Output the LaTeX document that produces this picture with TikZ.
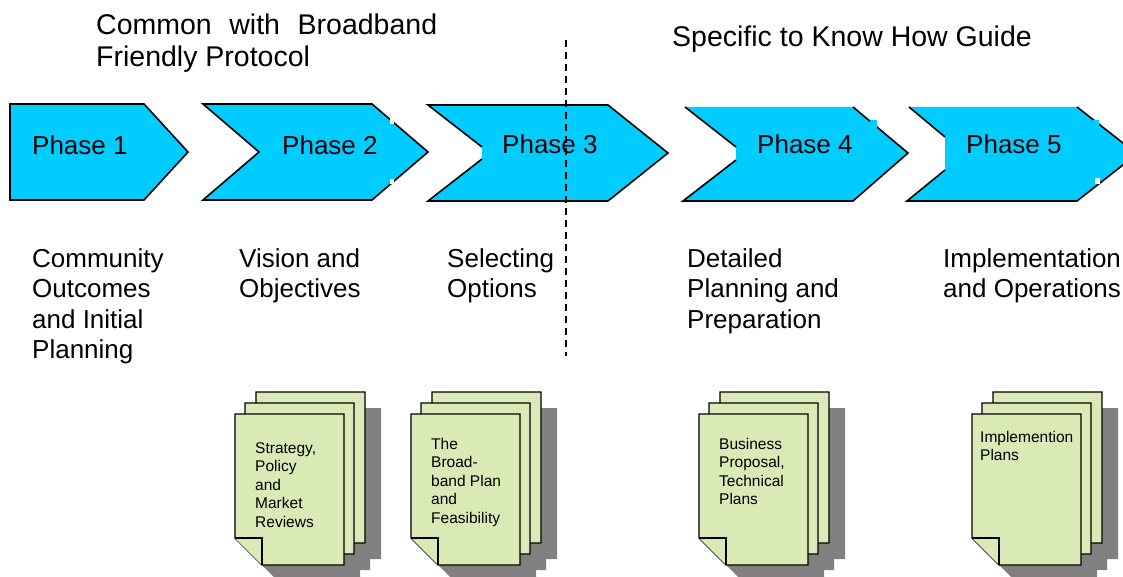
\documentclass[tikz,border=0pt]{standalone}
\usepackage{fontspec}
\setmainfont{Liberation Sans}
\definecolor{phcyan}{HTML}{00CCFF}
\definecolor{pagegreen}{HTML}{DAEAB6}
\definecolor{shadowgray}{HTML}{808080}
\tikzset{
  chevfill/.style={fill=phcyan, draw=none},
  chevline/.style={draw=black, line width=1.6pt, line join=miter},
  phaselabel/.style={anchor=base west, inner sep=0pt, font=\fontsize{26}{30}\selectfont},
  desclabel/.style={anchor=base west, inner sep=0pt, align=left, font=\fontsize{26}{30.5}\selectfont},
  toplabel/.style={anchor=base west, inner sep=0pt, align=left, font=\fontsize{28.5}{32}\selectfont},
  doclabel/.style={anchor=base west, inner sep=0pt, align=left, font=\fontsize{15.5}{18.6}\selectfont},
  pagebox/.style={fill=pagegreen, draw=black, line width=1.4pt},
  pageshadow/.style={fill=shadowgray, draw=none},
}
% dog-eared page outline: #1,#2 = top-left corner (w=109, h=151, ear=27)
\newcommand\pageoutline[2]{(#1,#2) -- ++(109,0) -- ++(0,151) -- ++(-82,0) -- ++(-27,-27) -- cycle}
% #1 x shift, #2 node name, #3 x, #4 baseline of LAST line, #5 text
\newcommand\docstack[5]{%
  \begin{scope}[shift={(#1,0)}]
    \fill[pageshadow] \pageoutline{272}{408};
    \fill[pageshadow] \pageoutline{261}{419};
    \fill[pageshadow] \pageoutline{251}{430};
    \draw[pagebox] \pageoutline{256}{392};
    \draw[pagebox] \pageoutline{245}{403};
    \draw[pagebox] \pageoutline{235}{414};
    \draw[pagebox] (235,538) -- (262,538) -- (262,565);
  \end{scope}
  \node[doclabel] (#2) at (#3,#4) {#5};
}
\begin{document}
\begin{tikzpicture}[x=1pt,y=-1pt]
\useasboundingbox (0,0) rectangle (1123,577);

% ---------- Phase 1 ----------
\fill[chevfill] (10,104) -- (144,104) -- (188,152) -- (144,200) -- (10,200) -- cycle;
\draw[chevline] (10,104) -- (144,104) -- (188,152) -- (144,200) -- (10,200) -- cycle;
% ---------- Phase 2 ----------
\fill[chevfill] (203,104) -- (372,104) -- (428,152) -- (372,200) -- (203,200) -- (259,152) -- cycle;
\draw[chevline] (203,104) -- (372,104) -- (428,152) -- (372,200) -- (203,200) -- (259,152) -- cycle;
\fill[white] (390,119) rectangle (394,124);
\fill[white] (390,179) rectangle (394,184);
% ---------- Phase 3 ----------
\fill[chevfill] (428,105) -- (608,105) -- (668,153) -- (608,201) -- (428,201) -- (482,159) -- (482,147) -- cycle;
\draw[chevline] (482,147) -- (428,105) -- (608,105) -- (668,153) -- (608,201) -- (428,201) -- (482,159);
% ---------- Phase 4 ----------
\fill[chevfill] (685,107) -- (853,107) -- (908,153) -- (853,201) -- (683,201) -- (736,160) -- (736,147) -- cycle;
\draw[chevline] (736,147) -- (685,107);
\draw[chevline] (853,107) -- (908,153) -- (853,201) -- (683,201) -- (736,160);
\fill[phcyan] (870,120) rectangle (877,128);
% ---------- Phase 5 ----------
\fill[chevfill] (909,107) -- (1077,107) -- (1137,154) -- (1077,201) -- (907,201) -- (945,170) -- (945,137) -- cycle;
\draw[chevline] (945,137) -- (909,107);
\draw[chevline] (1077,107) -- (1137,154) -- (1077,201) -- (907,201) -- (945,170);
\fill[phcyan] (1093,120) rectangle (1099,128);
\fill[white] (1095,178) rectangle (1100,184);

% ---------- phase labels ----------
\node[phaselabel] (p1) at (32,155) {Phase 1};
\node[phaselabel] (p2) at (282,155) {Phase 2};
\node[phaselabel] (p3) at (502,154) {Phase 3};
\node[phaselabel] (p4) at (757,154) {Phase 4};
\node[phaselabel] (p5) at (966,154) {Phase 5};

% ---------- divider ----------
\coordinate (divtop) at (566,40);
\coordinate (divbot) at (566,356);
\draw[line width=1.5pt, dash pattern=on 7pt off 5pt] (divtop) -- (divbot);

% ---------- headings (anchor = baseline of last line) ----------
\node[toplabel] (common) at (96,67) {\makebox[341pt][s]{Common with Broadband}\\Friendly Protocol};
\node[toplabel] (specific) at (672,47) {Specific to Know How Guide};

% ---------- descriptions (anchor = baseline of last line) ----------
\node[desclabel] (d1) at (32,358.5) {Community\\Outcomes\\and Initial\\Planning};
\node[desclabel] (d2) at (239,297.5) {Vision and\\Objectives};
\node[desclabel] (d3) at (447,297.5) {Selecting\\Options};
\node[desclabel] (d4) at (687,328) {Detailed\\Planning and\\Preparation};
\node[desclabel] (d5) at (943,297.5) {Implementation\\and Operations};

% ---------- document stacks ----------
\docstack{0}{doc1}{255}{527.4}{Strategy,\\Policy\\and\\Market\\Reviews}
\docstack{176}{doc2}{431}{523.4}{The\\Broad-\\band Plan\\and\\Feasibility}
\docstack{464}{doc3}{719}{504.8}{Business\\Proposal,\\Technical\\Plans}
\docstack{737}{doc4}{980}{460.6}{Implemention\\Plans}
\end{tikzpicture}
\end{document}
